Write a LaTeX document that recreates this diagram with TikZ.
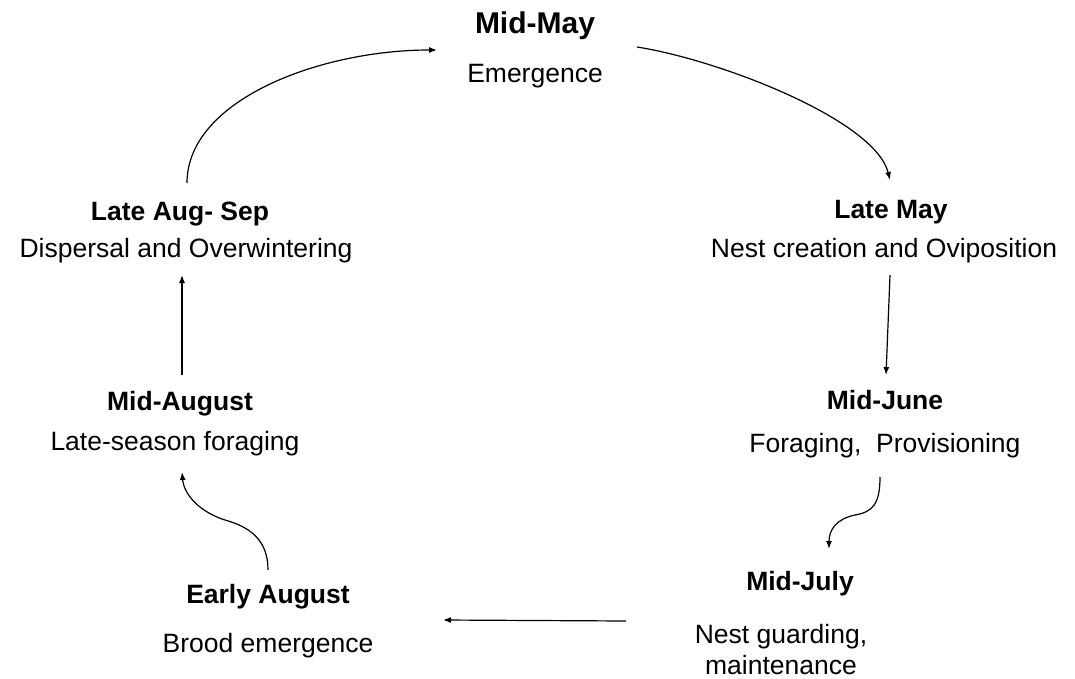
\documentclass[tikz,border=0pt]{standalone}
\usepackage{fontspec}
\setmainfont{Liberation Sans}
\usetikzlibrary{arrows.meta}
\begin{document}
\begin{tikzpicture}[x=1pt,y=-1pt,
  ttl/.style={font=\bfseries\fontsize{26.5}{30}\selectfont, inner sep=0pt, anchor=base},
  bigttl/.style={font=\bfseries\fontsize{30}{34}\selectfont, inner sep=0pt, anchor=base},
  desc/.style={font=\fontsize{26.5}{31}\selectfont, inner sep=0pt, anchor=base},
  conn/.style={line width=1.2pt, -{Latex[length=8pt,width=6pt]}}]
\useasboundingbox[fill=white] (0,0) rectangle (1075,679);
% labels
\node[bigttl] (mmay) at (535,34) {Mid-May};
\node[desc] (emer) at (535,83) {Emergence};
\node[ttl] (lmay) at (891,218) {Late May};
\node[desc] (nest) at (884,257) {Nest creation and Oviposition};
\node[ttl] (laug) at (180,220) {Late Aug- Sep};
\node[desc] (disp) at (186,257) {Dispersal and Overwintering};
\node[ttl] (mjun) at (885,409) {Mid-June};
\node[desc] (forg) at (885,452) {Foraging,\ \ Provisioning};
\node[ttl] (maug) at (180,410) {Mid-August};
\node[desc] (lsf) at (175,450) {Late-season foraging};
\node[ttl] (mjul) at (800,590) {Mid-July};
\node[desc, align=center, anchor=north] (guard) at (781,624) {Nest guarding,\\maintenance};
\node[ttl] (eaug) at (268,603) {Early August};
\node[desc] (brood) at (268,652) {Brood emergence};
% connector end points
\coordinate (c1s) at (187,183);
\coordinate (c1e) at (437,50);
\coordinate (c2s) at (637,47);
\coordinate (c2e) at (890,180);
\coordinate (c3s) at (890,275);
\coordinate (c3e) at (886,375);
\coordinate (c4s) at (880,477);
\coordinate (c4m) at (855,515);
\coordinate (c4e) at (829,549);
\coordinate (c5s) at (626,621);
\coordinate (c5e) at (443,620);
\coordinate (c6s) at (268,570);
\coordinate (c6m) at (225,520);
\coordinate (c6e) at (182,472);
\coordinate (c7s) at (182,375);
\coordinate (c7e) at (182,275);
% connectors
\draw[conn] (c1s) .. controls (187,100) and (320,50) .. (c1e);
\draw[conn] (c2s) .. controls (720,60) and (875,120) .. (c2e);
\draw[conn] (c3s) -- (c3e);
\draw[conn] (c4s) .. controls (880,505) and (872,512) .. (c4m) .. controls (836,519) and (829,530) .. (c4e);
\draw[conn] (c5s) -- (c5e);
\draw[conn] (c6s) .. controls (268,540) and (250,527) .. (c6m) .. controls (200,512) and (184,495) .. (c6e);
\draw[conn] (c7s) -- (c7e);
\end{tikzpicture}
\end{document}
